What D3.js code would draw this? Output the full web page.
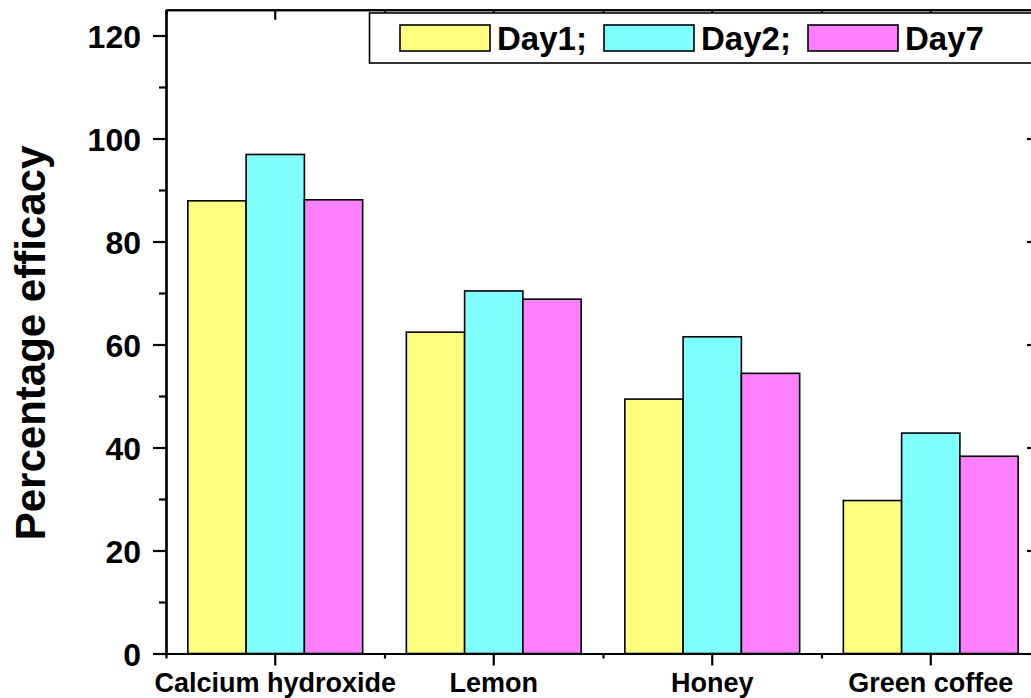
<!DOCTYPE html>
<html>
<head>
<meta charset="utf-8">
<script src="https://cdn.jsdelivr.net/npm/d3@7"></script>
<style>
  html, body { margin: 0; padding: 0; background: #fff; }
  svg { display: block; }
  text { font-family: "Liberation Sans", Arial, sans-serif; font-weight: bold; fill: #000; }
</style>
</head>
<body>
<svg id="chart" width="1031" height="698"></svg>
<script>
const categories = ["Calcium hydroxide", "Lemon", "Honey", "Green coffee"];
const seriesNames = ["Day1;", "Day2;", "Day7"];
const day1 = [87.9, 62.4, 49.4, 29.7];
const day2 = [96.9, 70.4, 61.5, 42.8];
const day7 = [88.1, 68.8, 54.4, 38.3];
const seriesColors = ["#FFFF80", "#80FFFF", "#FF80FF"];
const yMajorTicks = [0, 20, 40, 60, 80, 100, 120];
const yMinorTicks = [10, 30, 50, 70, 90, 110];
const yTitle = "Percentage efficacy";

const series = [day1, day2, day7];

const svg = d3.select("#chart");
const plotL = 166, plotR = 1040, plotT = 9.75, plotB = 653.5;

const x = d3.scaleBand().domain(categories).range([plotL, plotR]).paddingInner(0).paddingOuter(0);
const xSub = d3.scaleBand().domain(d3.range(series.length)).range([0, x.bandwidth() * 0.8]);
const xEdge = d3.scaleLinear().domain([0, categories.length]).range([plotL, plotR]);
const y = d3.scaleLinear().domain([0, 125]).range([plotB, plotT]);

// bars
const groups = svg.append("g").selectAll("g")
  .data(categories).join("g")
  .attr("transform", d => `translate(${x(d) + x.bandwidth() * 0.1},0)`);
groups.selectAll("rect")
  .data((c, ci) => series.map((s, si) => ({ si, v: s[ci] })))
  .join("rect")
  .attr("x", d => xSub(d.si))
  .attr("width", xSub.bandwidth())
  .attr("y", d => y(d.v))
  .attr("height", d => y(0) - y(d.v))
  .attr("fill", d => seriesColors[d.si])
  .attr("stroke", "#000")
  .attr("stroke-width", 1.6);

function styleAxis(g) {
  g.select(".domain").attr("stroke", "#000").attr("stroke-width", 2.2);
  g.selectAll(".tick line").attr("stroke", "#000").attr("stroke-width", 2.2);
}

// left axis
const yAxisMajor = svg.append("g").attr("transform", `translate(${plotL},0)`)
  .call(d3.axisLeft(y).tickValues(yMajorTicks).tickSize(13).tickSizeOuter(0).tickPadding(12).tickFormat(d3.format("d")));
styleAxis(yAxisMajor);
yAxisMajor.selectAll("text").style("font-size", "32px").attr("dy", "0.36em");
const yAxisMinor = svg.append("g").attr("transform", `translate(${plotL},0)`)
  .call(d3.axisLeft(y).tickValues(yMinorTicks).tickSize(7).tickSizeOuter(0).tickFormat(""));
styleAxis(yAxisMinor);

// right axis (inward ticks)
const yRight = svg.append("g").attr("transform", `translate(${plotR},0)`)
  .call(d3.axisRight(y).tickValues(yMajorTicks).tickSize(-13).tickSizeOuter(0).tickFormat(""));
styleAxis(yRight);
const yRightMinor = svg.append("g").attr("transform", `translate(${plotR},0)`)
  .call(d3.axisRight(y).tickValues(yMinorTicks).tickSize(-7).tickSizeOuter(0).tickFormat(""));
styleAxis(yRightMinor);

// bottom axis
const xAxis = svg.append("g").attr("transform", `translate(0,${plotB})`)
  .call(d3.axisBottom(x).tickSize(12).tickSizeOuter(0));
styleAxis(xAxis);
xAxis.selectAll("text").style("font-size", "27px").attr("y", 38).attr("dy", 0);
const xAxisMinor = svg.append("g").attr("transform", `translate(0,${plotB})`)
  .call(d3.axisBottom(xEdge).tickValues(d3.range(categories.length + 1)).tickSize(5).tickSizeOuter(0).tickFormat(""));
styleAxis(xAxisMinor);

// top axis (inward ticks)
const xTop = svg.append("g").attr("transform", `translate(0,${plotT})`)
  .call(d3.axisTop(x).tickSize(-10).tickSizeOuter(0).tickFormat(""));
styleAxis(xTop);
const xTopMinor = svg.append("g").attr("transform", `translate(0,${plotT})`)
  .call(d3.axisTop(xEdge).tickValues(d3.range(categories.length + 1)).tickSize(-5).tickSizeOuter(0).tickFormat(""));
styleAxis(xTopMinor);

// y title
svg.append("text")
  .attr("transform", `translate(45,343) rotate(-90)`)
  .attr("text-anchor", "middle")
  .style("font-size", "42px")
  .text(yTitle);

// legend
const legend = svg.append("g");
legend.append("rect")
  .attr("x", 369.5).attr("y", 13).attr("width", 720).attr("height", 50)
  .attr("fill", "#fff").attr("stroke", "#000").attr("stroke-width", 1.6);
const items = legend.selectAll("g.item").data(seriesNames).join("g")
  .attr("class", "item")
  .attr("transform", (d, i) => `translate(${400 + i * 204},0)`);
items.append("rect")
  .attr("x", 0).attr("y", 25).attr("width", 90).attr("height", 26)
  .attr("fill", (d, i) => seriesColors[i])
  .attr("stroke", "#000").attr("stroke-width", 1.6);
items.append("text")
  .attr("x", 97).attr("y", 50)
  .style("font-size", "33px")
  .text(d => d);
</script>
</body>
</html>
